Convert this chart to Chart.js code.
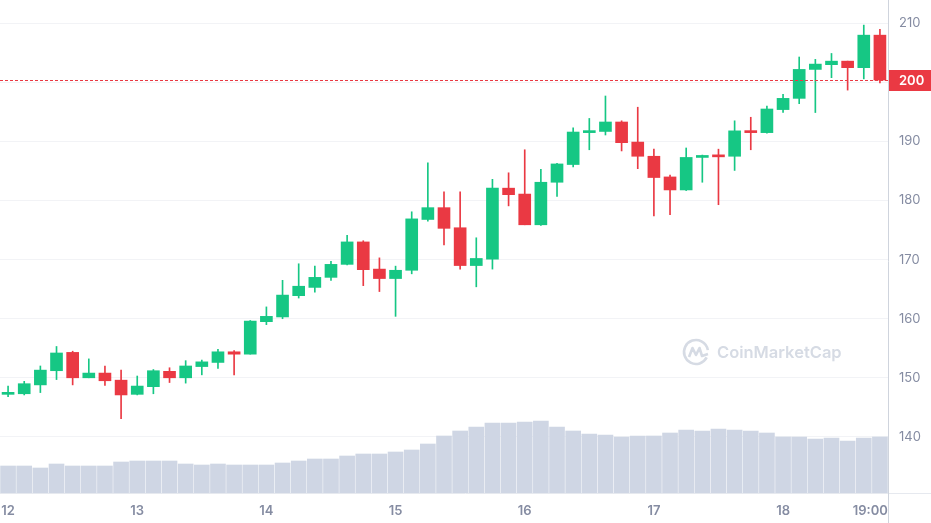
<!DOCTYPE html>
<html>
<head>
    <title>SOL / USD</title>
    <style>
        body { margin: 0; background: #ffffff; }
    </style>
</head>
<body>
    <canvas id="priceChart" width="931" height="523"></canvas>

    <script src="https://cdn.jsdelivr.net/npm/chart.js"></script>
    <script>
        // 3 hour candles, 12th 00:00 to 18th 18:00
        const opens = [147.2, 147.3, 148.8, 151.2, 154.3, 150.0, 150.8, 149.6, 147.2, 148.5,
            151.1, 150.0, 151.9, 152.6, 154.4, 154.0, 159.5, 160.3, 163.9, 165.3,
            167.0, 169.2, 173.0, 168.4, 166.8, 168.2, 176.8, 178.8, 175.4, 169.0,
            170.1, 182.1, 181.1, 175.9, 183.1, 186.1, 191.5, 191.7, 193.3, 189.9,
            187.5, 184.0, 181.8, 187.3, 187.6, 187.5, 191.8, 191.5, 195.4, 197.3,
            202.2, 203.0, 203.6, 202.5, 208.0];
        const highs = [148.6, 149.4, 152.0, 155.3, 154.5, 153.2, 152.0, 151.3, 150.3, 151.4,
            151.7, 152.9, 153.0, 154.8, 154.6, 159.7, 162.0, 166.5, 169.3, 168.9,
            169.7, 174.1, 173.2, 170.3, 168.9, 178.1, 186.4, 181.5, 181.5, 173.7,
            183.6, 184.7, 188.6, 185.3, 186.3, 192.3, 193.9, 197.7, 193.5, 195.8,
            188.7, 184.3, 188.9, 187.7, 188.7, 193.5, 194.1, 196.0, 198.0, 204.3,
            203.9, 204.9, 203.6, 209.7, 209.0];
        const lows = [146.8, 147.1, 147.5, 149.7, 148.8, 150.0, 148.7, 143.1, 147.1, 147.3,
            149.2, 149.1, 150.5, 151.6, 150.5, 154.0, 159.0, 160.0, 163.5, 164.5,
            166.5, 169.1, 165.6, 164.6, 160.4, 167.6, 176.5, 172.5, 168.4, 165.4,
            168.4, 179.1, 175.9, 175.8, 180.7, 185.7, 188.6, 191.1, 188.4, 185.4,
            177.4, 177.6, 181.7, 183.1, 179.3, 185.1, 188.6, 191.4, 194.9, 196.4,
            194.9, 200.8, 198.7, 200.6, 199.9];
        const closes = [147.5, 149.0, 151.3, 154.2, 150.0, 150.8, 149.5, 147.1, 148.6, 151.2,
            150.0, 152.0, 152.7, 154.4, 154.0, 159.6, 160.4, 164.0, 165.5, 167.0,
            169.2, 173.0, 168.3, 166.8, 168.2, 176.9, 178.8, 175.3, 169.0, 170.2,
            182.1, 181.0, 175.9, 183.1, 186.2, 191.6, 191.8, 193.3, 189.8, 187.5,
            183.9, 181.8, 187.3, 187.6, 187.4, 191.8, 191.5, 195.5, 197.3, 202.2,
            203.1, 203.6, 202.5, 208.0, 200.4];
        // volume in arbitrary units (relative bar heights)
        const volumes = [270, 270, 250, 290, 270, 270, 270, 310, 320, 320,
            320, 290, 280, 290, 280, 280, 280, 300, 320, 340,
            340, 370, 390, 390, 410, 430, 490, 570, 620, 660,
            700, 700, 710, 720, 660, 620, 590, 580, 560, 570,
            570, 600, 630, 620, 640, 630, 620, 600, 560, 560,
            540, 550, 520, 550, 560];

        const dayLabels = ['12', '13', '14', '15', '16', '17', '18', '19:00'];
        const dayTickIndex = [0, 8, 16, 24, 32, 40, 48, 53.4];
        const priceTicks = [140, 150, 160, 170, 180, 190, 200, 210];
        const lastPrice = closes[closes.length - 1];

        const UP = '#16c784';
        const DOWN = '#ea3943';
        const AXIS_TEXT = '#858ca2';

        const candleColors = opens.map((o, i) => closes[i] >= o ? UP : DOWN);

        // dotted price line, price tag, axis lines, watermark
        const cmcExtras = {
            id: 'cmcExtras',
            beforeDatasetsDraw(chart) {
                const ctx = chart.ctx;
                ctx.save();
                ctx.strokeStyle = '#d6dbe4';
                ctx.fillStyle = '#d6dbe4';
                ctx.lineWidth = 2.6;
                // logo
                const cx = 696, cy = 352, r = 12;
                ctx.beginPath();
                ctx.arc(cx, cy, r, 0.15 * Math.PI, 1.95 * Math.PI);
                ctx.stroke();
                ctx.beginPath();
                ctx.moveTo(cx - 7, cy + 5);
                ctx.lineTo(cx - 3.5, cy - 4);
                ctx.lineTo(cx, cy + 3);
                ctx.lineTo(cx + 3.5, cy - 4);
                ctx.lineTo(cx + 6, cy + 4);
                ctx.lineTo(cx + 12, cy + 2);
                ctx.lineJoin = 'round';
                ctx.stroke();
                ctx.font = '600 16.5px Inter';
                ctx.textBaseline = 'middle';
                ctx.fillText('CoinMarketCap', 717, 353);
                ctx.restore();
            },
            afterDatasetsDraw(chart) {
                const ctx = chart.ctx;
                const area = chart.chartArea;
                const y = Math.round(chart.scales.y.getPixelForValue(lastPrice)) + 0.5;
                ctx.save();
                ctx.strokeStyle = DOWN;
                ctx.lineWidth = 1;
                ctx.setLineDash([3, 2]);
                ctx.beginPath();
                ctx.moveTo(area.left, y);
                ctx.lineTo(area.right, y);
                ctx.stroke();
                ctx.setLineDash([]);

                // axis lines
                ctx.strokeStyle = '#e6e9ef';
                ctx.beginPath();
                ctx.moveTo(0, area.bottom + 0.5);
                ctx.lineTo(chart.width, area.bottom + 0.5);
                ctx.stroke();
                ctx.strokeStyle = '#cfd4dd';
                ctx.beginPath();
                ctx.moveTo(area.right + 0.5, 0);
                ctx.lineTo(area.right + 0.5, chart.height);
                ctx.stroke();

                // price tag
                ctx.fillStyle = DOWN;
                ctx.fillRect(area.right + 1, y - 10.5, chart.width - area.right - 1, 21);
                ctx.fillStyle = '#ffffff';
                ctx.font = '600 13px Inter';
                ctx.textBaseline = 'middle';
                ctx.fillText(Math.round(lastPrice).toString(), area.right + 11, y + 0.5);
                ctx.restore();
            }
        };

        new Chart(document.getElementById('priceChart'), {
            type: 'bar',
            data: {
                datasets: [
                    {
                        label: 'Volume',
                        data: volumes.map((v, i) => ({ x: i, y: v })),
                        yAxisID: 'vol',
                        backgroundColor: '#cfd6e4',
                        barThickness: 15,
                        grouped: false,
                        order: 3
                    },
                    {
                        label: 'Wick',
                        data: lows.map((l, i) => ({ x: i, y: [l, highs[i]] })),
                        yAxisID: 'y',
                        backgroundColor: candleColors,
                        barThickness: 1,
                        grouped: false,
                        order: 2
                    },
                    {
                        label: 'Body',
                        data: opens.map((o, i) => ({ x: i, y: [o, closes[i]] })),
                        yAxisID: 'y',
                        backgroundColor: candleColors,
                        barThickness: 12,
                        minBarLength: 2,
                        grouped: false,
                        order: 1
                    }
                ]
            },
            options: {
                responsive: false,
                animation: false,
                devicePixelRatio: 1,
                layout: { padding: 0 },
                plugins: {
                    legend: { display: false },
                    tooltip: { enabled: false }
                },
                scales: {
                    x: {
                        type: 'linear',
                        min: -0.5,
                        max: 54.5,
                        offset: false,
                        grid: { display: false, drawTicks: false },
                        border: { display: false },
                        ticks: {
                            color: AXIS_TEXT,
                            font: { family: 'Inter', size: 13, weight: '600' },
                            padding: 10,
                            maxRotation: 0,
                            autoSkip: false,
                            callback: (value, index) => dayLabels[index]
                        },
                        afterBuildTicks: (scale) => {
                            scale.ticks = dayTickIndex.map(v => ({ value: v }));
                        },
                        afterFit: (scale) => {
                            scale.height = 30;
                            scale.paddingLeft = 0;
                            scale.paddingRight = 0;
                        }
                    },
                    y: {
                        type: 'linear',
                        position: 'right',
                        min: 130.5,
                        max: 213.95,
                        grid: { color: '#f2f3f6', drawTicks: false },
                        border: { display: false },
                        ticks: {
                            color: AXIS_TEXT,
                            font: { family: 'Inter', size: 13 },
                            padding: 11
                        },
                        afterBuildTicks: (scale) => {
                            scale.ticks = priceTicks.map(v => ({ value: v }));
                        },
                        afterFit: (scale) => {
                            scale.width = 43;
                            scale.paddingTop = 0;
                            scale.paddingBottom = 0;
                        }
                    },
                    vol: {
                        type: 'linear',
                        display: false,
                        min: 0,
                        max: 4930
                    }
                }
            },
            plugins: [cmcExtras]
        });
    </script>
</body>
</html>
